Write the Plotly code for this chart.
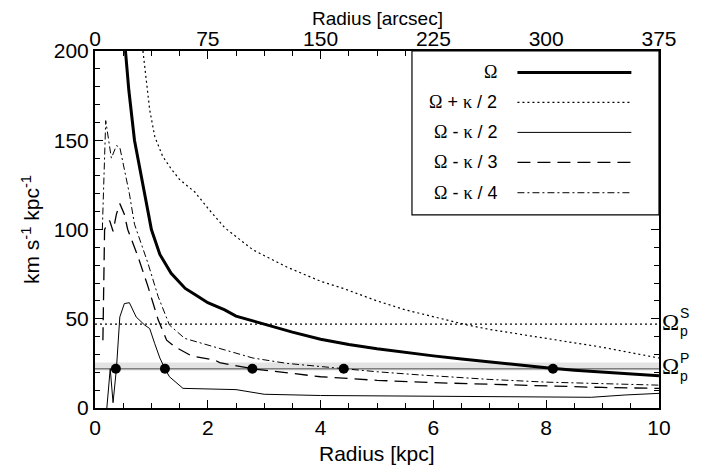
import plotly.graph_objects as go

# radius [kpc] and angular frequency [km s^-1 kpc^-1]
r_omega = [0.54, 0.6, 0.7, 0.82, 0.94, 1.0, 1.15, 1.35, 1.6, 1.8, 2.0, 2.3, 2.5, 3.0, 3.5, 4.0,
           4.5, 5.0, 5.5, 6.0, 6.5, 7.0, 7.5, 8.0, 8.5, 9.0, 9.5, 10.0]
omega = [200, 178, 150, 129, 110, 100, 86, 75.5, 67, 63, 59, 55, 51.5, 47, 42.5, 38.5,
         35.6, 33.2, 31.1, 29.2, 27.4, 25.7, 24.1, 22.6, 21.2, 20.0, 19.0, 18.0]

r_plus = [0.85, 0.97, 1.06, 1.2, 1.35, 1.5, 1.77, 2.0, 2.3, 2.8, 3.4, 4.0, 4.4, 5.0, 5.5, 6.0,
          6.6, 7.0, 7.5, 8.0, 8.5, 9.0, 9.5, 10.0]
omega_plus_k2 = [200, 167, 152, 141, 134, 128, 121, 112, 101, 88.6, 79, 71, 67, 60, 55, 51,
                 46.5, 44, 41.5, 39, 36.5, 34, 31, 28]

r_minus2 = [0.21, 0.27, 0.32, 0.38, 0.44, 0.52, 0.61, 0.73, 0.88, 0.97, 1.06, 1.15, 1.24, 1.32,
            1.56, 2.0, 2.5, 3.0, 4.0, 5.0, 6.0, 7.0, 8.0, 8.8, 9.4, 10.0]
omega_minus_k2 = [0, 22, 3, 22, 51, 58.5, 59, 51, 46.5, 44.5, 36, 28, 22, 17.5,
                  11, 10.5, 10.3, 7.7, 7.0, 6.8, 6.7, 6.5, 6.2, 6.0, 7.3, 8.2]

r_minus3 = [0.14, 0.17, 0.2, 0.26, 0.32, 0.38, 0.44, 0.52, 0.58, 0.76, 0.94, 1.12, 1.27, 1.41,
            1.71, 2.12, 2.21, 2.79, 4.0, 5.0, 6.0, 7.0, 8.0, 9.0, 10.0]
omega_minus_k3 = [38, 100, 102, 105, 99, 108.6, 114.5, 108.6, 100, 85, 68, 49.4, 38, 34.4,
                  29.2, 26.9, 25.4, 22, 17.5, 15.5, 14.2, 13.2, 12.3, 11.5, 11]

r_minus4 = [0.13, 0.19, 0.29, 0.38, 0.44, 0.52, 0.61, 0.70, 0.94, 1.12, 1.32, 1.59, 2.3, 2.8,
            3.4, 4.41, 5.0, 5.77, 7.0, 8.0, 9.0, 10.0]
omega_minus_k4 = [100, 161, 140, 147, 146, 133, 120, 103, 81, 62.4, 46.5, 39, 32.5, 28,
                  25, 22, 20.3, 18.5, 16, 14.5, 13.5, 12.8]

# pattern speeds
omega_p_s = 47
omega_p_p = 22
omega_p_p_band = [21, 25.5]

# resonance radii (intersections with the primary pattern speed)
res_r = [0.37, 1.24, 2.79, 4.41, 8.12]
res_y = [22, 22, 22, 22, 22]

ARCSEC_PER_KPC = 37.5
FONT = "Liberation Sans, Arial, Helvetica, sans-serif"
SERIF = "Liberation Serif, Times New Roman, serif"

series = [
    ("Ω", r_omega, omega, dict(color="black", width=3)),
    ("Ω + κ / 2", r_plus, omega_plus_k2, dict(color="black", width=1.2, dash="2px,3px")),
    ("Ω - κ / 2", r_minus2, omega_minus_k2, dict(color="black", width=1)),
    ("Ω - κ / 3", r_minus3, omega_minus_k3, dict(color="black", width=1.3, dash="13px,7px")),
    ("Ω - κ / 4", r_minus4, omega_minus_k4, dict(color="black", width=1, dash="7px,3px,2px,3px")),
]

fig = go.Figure()

# pattern speed lines
fig.add_shape(type="rect", xref="x", yref="y", x0=0, x1=10,
              y0=omega_p_p_band[0], y1=omega_p_p_band[1],
              fillcolor="#e3e3e3", line_width=0, layer="below")
fig.add_shape(type="line", xref="x", yref="y", x0=0, x1=10, y0=omega_p_p, y1=omega_p_p,
              line=dict(color="#808080", width=1.5), layer="below")
fig.add_shape(type="line", xref="x", yref="y", x0=0, x1=10, y0=omega_p_s, y1=omega_p_s,
              line=dict(color="black", width=1.2, dash="2px,3px"), layer="below")

for name, xs, ys, ln in series:
    fig.add_trace(go.Scatter(x=xs, y=ys, mode="lines", line=ln, name=name, showlegend=False))

fig.add_trace(go.Scatter(x=res_r, y=res_y, mode="markers",
                         marker=dict(color="black", size=10), showlegend=False))

# dummy traces so the arcsec axis and the right-hand axis are drawn
fig.add_trace(go.Scatter(x=[0, 10 * ARCSEC_PER_KPC], y=[None, None], xaxis="x2",
                         mode="lines", showlegend=False, hoverinfo="skip"))
fig.add_trace(go.Scatter(x=[None, None], y=[0, 200], yaxis="y2",
                         mode="lines", showlegend=False, hoverinfo="skip"))

# hand-made legend: text on the left, line sample on the right
fig.add_shape(type="rect", xref="paper", yref="paper", x0=0.562, x1=1.0, y0=0.541, y1=1.0,
              line=dict(color="black", width=1.2), fillcolor="white", layer="above")
row_y = [0.940, 0.856, 0.772, 0.688, 0.603]
for (name, xs, ys, ln), yy in zip(series, row_y):
    fig.add_shape(type="line", xref="paper", yref="paper", x0=0.749, x1=0.951, y0=yy, y1=yy,
                  line=ln, layer="above")
    txt = name.replace("Ω", f"<span style='font-family:{SERIF}'>Ω</span>")
    txt = txt.replace("κ", f"<span style='font-family:{SERIF}'>κ</span>")
    fig.add_annotation(x=0.716, y=yy, xref="paper", yref="paper", text=txt,
                       showarrow=False, xanchor="right", yanchor="middle",
                       font=dict(size=18, family=FONT, color="black"))

# pattern speed labels on the right
for val, sup in [(omega_p_s, "S"), (omega_p_p, "P")]:
    fig.add_annotation(x=1.0, y=val + 1, xref="paper", yref="y", text="Ω", showarrow=False,
                       xanchor="left", yanchor="middle", xshift=1,
                       font=dict(size=23, family=SERIF, color="black"))
    fig.add_annotation(x=1.0, y=val + 1, xref="paper", yref="y", text=f"{sup}<br>p",
                       showarrow=False, xanchor="left", yanchor="middle", xshift=19, yshift=0,
                       align="left", font=dict(size=14, family=FONT, color="black"))

# x axis titles as annotations (axis titles collide with tick labels without automargin)
fig.add_annotation(x=0.5, y=0, xref="paper", yref="paper", text="Radius [kpc]",
                   showarrow=False, xanchor="center", yanchor="middle", yshift=-45,
                   font=dict(size=21, family=FONT, color="black"))
fig.add_annotation(x=0.5, y=1, xref="paper", yref="paper", text="Radius [arcsec]",
                   showarrow=False, xanchor="center", yanchor="top", yshift=45,
                   font=dict(size=19, family=FONT, color="black"))

axis_common = dict(showline=True, linecolor="black", linewidth=2, ticks="inside",
                   tickcolor="black", ticklen=8, tickwidth=1.2, showgrid=False, zeroline=False,
                   automargin=False, tickfont=dict(size=21, family=FONT, color="black"))
minor_y = dict(dtick=10, ticks="inside", ticklen=5, tickcolor="black")

# the page body has an 8px margin, so the figure is shifted and slightly smaller
fig.update_layout(
    width=693, height=458,
    margin=dict(l=87, r=42, t=43, b=58),
    paper_bgcolor="white", plot_bgcolor="white",
    font=dict(family=FONT, color="black"),
    xaxis=dict(range=[0, 10], tickvals=[0, 2, 4, 6, 8, 10],
               minor=dict(dtick=0.5, ticks="inside", ticklen=5, tickcolor="black"),
               **axis_common),
    xaxis2=dict(range=[0, 10 * ARCSEC_PER_KPC], overlaying="x", side="top",
                tickvals=[0, 75, 150, 225, 300, 375], ticklabelstandoff=-5,
                minor=dict(dtick=18.75, ticks="inside", ticklen=5, tickcolor="black"),
                **axis_common),
    yaxis=dict(range=[0, 200], tickvals=[0, 50, 100, 150, 200], minor=minor_y,
               title=dict(text="km s<sup>-1</sup> kpc<sup>-1</sup>",
                          font=dict(size=21, family=FONT), standoff=8),
               **axis_common),
    yaxis2=dict(range=[0, 200], overlaying="y", side="right", tickvals=[0, 50, 100, 150, 200],
                showticklabels=False, minor=minor_y, **axis_common),
)

fig.write_html("out.html")
